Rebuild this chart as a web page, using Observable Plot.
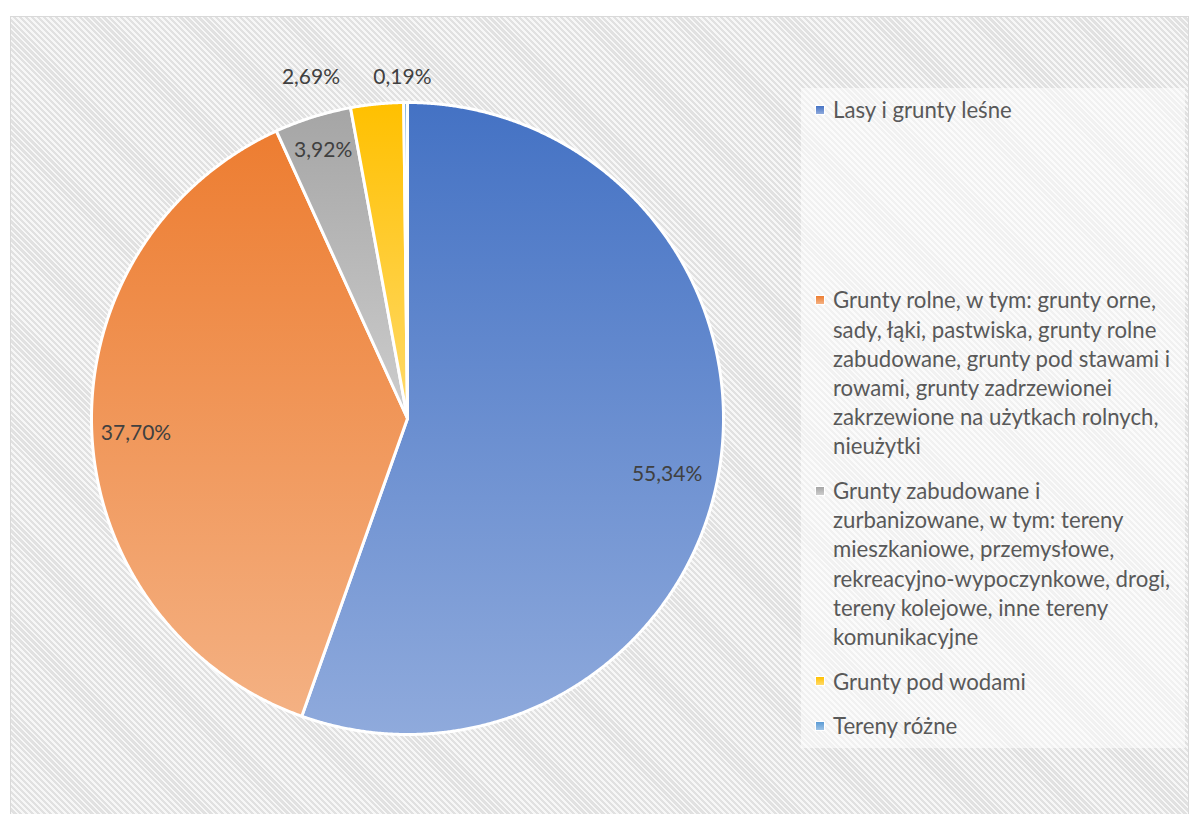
<!DOCTYPE html>
<html>
<head>
<meta charset="utf-8">
<script src="https://cdn.jsdelivr.net/npm/d3@7"></script>
<script src="https://cdn.jsdelivr.net/npm/@observablehq/plot@0.6"></script>
<style>
  body { margin: 0; background: #fff; font-family: Lato, "Noto Sans", sans-serif; }
  #wrap { position: relative; width: 1189px; height: 814px; overflow: hidden; }
  #frame { position: absolute; left: 10px; top: 16px; width: 1179px; height: 820px; box-sizing: border-box;
    border: 1px solid #d9d9d9;
    background: repeating-linear-gradient(45deg, #e1e1e1 0px, #e1e1e1 2.3px, #f7f7f7 2.3px, #f7f7f7 4.2px); }
  #legendbox { position: absolute; left: 801px; top: 88px; width: 384px; height: 660px;
    background: rgba(255,255,255,0.55); }
  #chart { position: absolute; left: 0; top: 0; }
  #legend { position: absolute; left: 833px; top: 95.4px; font-size: 22.2px; line-height: 29.2px; color: #595959; }
  .item { position: relative; white-space: pre; margin-bottom: 15.4px; }
  .item:first-child { margin-bottom: 160.8px; }
  .sw { position: absolute; left: -18px; top: 9.6px; width: 8px; height: 8px; border: 1.5px solid #fff; }
</style>
</head>
<body>
<div id="wrap">
  <div id="frame"></div>
  <div id="legendbox"></div>
  <div id="chart"></div>
  <div id="legend"></div>
</div>
<script>
const categories = [
  "Lasy i grunty leśne",
  "Grunty rolne, w tym: grunty orne,\nsady, łąki, pastwiska, grunty rolne\nzabudowane, grunty pod stawami i\nrowami, grunty zadrzewionei\nzakrzewione na użytkach rolnych,\nnieużytki",
  "Grunty zabudowane i\nzurbanizowane, w tym: tereny\nmieszkaniowe, przemysłowe,\nrekreacyjno-wypoczynkowe, drogi,\ntereny kolejowe, inne tereny\nkomunikacyjne",
  "Grunty pod wodami",
  "Tereny różne"
];
const shares = [55.34, 37.70, 3.92, 2.69, 0.19];
const shareLabels = ["55,34%", "37,70%", "3,92%", "2,69%", "0,19%"];
const colorsTop = ["#4472C4", "#ED7D31", "#A5A5A5", "#FFC000", "#5B9BD5"];
const colorsBottom = ["#8FAADC", "#F4B183", "#CDCDCD", "#FFDA6A", "#9DC3E6"];

const arcs = d3.pie().sort(null).value(d => d)(shares);
const mid = i => (arcs[i].startAngle + arcs[i].endAngle) / 2;

const slices = arcs.map((a, i) => {
  const pts = [{x: 0, y: 0}];
  const n = Math.max(2, Math.ceil((a.endAngle - a.startAngle) / 0.004));
  for (let k = 0; k <= n; k++) {
    const t = a.startAngle + (a.endAngle - a.startAngle) * k / n;
    pts.push({x: Math.sin(t), y: Math.cos(t)});
  }
  pts.push({x: 0, y: 0});
  return pts;
});

const labelMark = (i, r, dx, dy) => Plot.text([i], {
  x: j => r * Math.sin(mid(j)),
  y: j => r * Math.cos(mid(j)),
  text: j => shareLabels[j],
  dx, dy,
  fontSize: 21,
  fill: "#404040",
  fontFamily: "Lato, 'Noto Sans', sans-serif"
});

const plot = Plot.plot({
  width: 1189,
  height: 814,
  margin: 0,
  style: {background: "transparent", overflow: "visible"},
  x: {domain: [-1, 1], range: [91, 723], axis: null},
  y: {domain: [-1, 1], range: [734, 102], axis: null},
  marks: [
    ...slices.map((pts, i) => Plot.line(pts, {
      x: "x", y: "y", fill: `url(#grad${i})`, stroke: "white", strokeWidth: 3,
      strokeLinejoin: "round", curve: "linear"
    })),
    labelMark(0, 0.84, -2, 11),
    labelMark(1, 0.86, 0, 3),
    labelMark(2, 0.89, 0, 0),
    labelMark(3, 1.1, -63, 5),
    labelMark(4, 1.1, -3, 6)
  ]
});

const defs = d3.select(plot).insert("defs", ":first-child");
colorsTop.forEach((c, i) => {
  const g = defs.append("linearGradient").attr("id", `grad${i}`)
    .attr("x1", 0).attr("y1", 0).attr("x2", 0).attr("y2", 1);
  g.append("stop").attr("offset", "0%").attr("stop-color", c);
  g.append("stop").attr("offset", "100%").attr("stop-color", colorsBottom[i]);
});

document.getElementById("chart").appendChild(plot);

const legend = d3.select("#legend");
categories.forEach((name, i) => {
  const item = legend.append("div").attr("class", "item");
  item.append("span").attr("class", "sw")
    .style("background", `linear-gradient(${colorsTop[i]}, ${colorsBottom[i]})`);
  item.append("span").text(name);
});
</script>
</body>
</html>
